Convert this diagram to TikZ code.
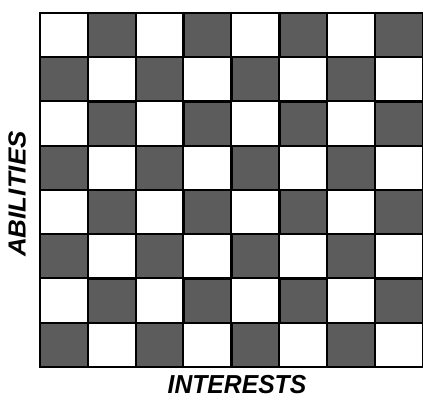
\documentclass[tikz,border=0pt]{standalone}
\usepackage{fontspec}
\setmainfont{Liberation Sans}
\begin{document}
\begin{tikzpicture}[x=1pt,y=-1pt,
  darkcell/.style={fill=black!64,draw=black,line width=2.4pt},
  lightcell/.style={fill=white,draw=black,line width=1.6pt},
  axislabel/.style={font=\fontsize{26}{28}\selectfont\bfseries\itshape,inner sep=0pt,xscale=0.95}]
\useasboundingbox (0,0) rectangle (423,400);
\fill[white] (0,0) rectangle (423,400);
\def\cw{47.875}
\def\rh{44.25}
\foreach \i in {0,...,7}{
  \foreach \j in {0,...,7}{
    \pgfmathtruncatemacro{\cellpar}{mod(\i+\j,2)}
    \ifnum\cellpar=1
      \draw[darkcell] ({40+\i*\cw},{13+\j*\rh}) rectangle ({40+(\i+1)*\cw},{13+(\j+1)*\rh});
    \else
      \draw[lightcell] ({40+\i*\cw},{13+\j*\rh}) rectangle ({40+(\i+1)*\cw},{13+(\j+1)*\rh});
    \fi
  }
}
\draw[black,line width=2pt] (40,13) rectangle (423,367);
\node[axislabel] (interests) at (237,385) {INTERESTS};
\node[axislabel,rotate=90] (abilities) at (17,194) {ABILITIES};
\end{tikzpicture}
\end{document}
